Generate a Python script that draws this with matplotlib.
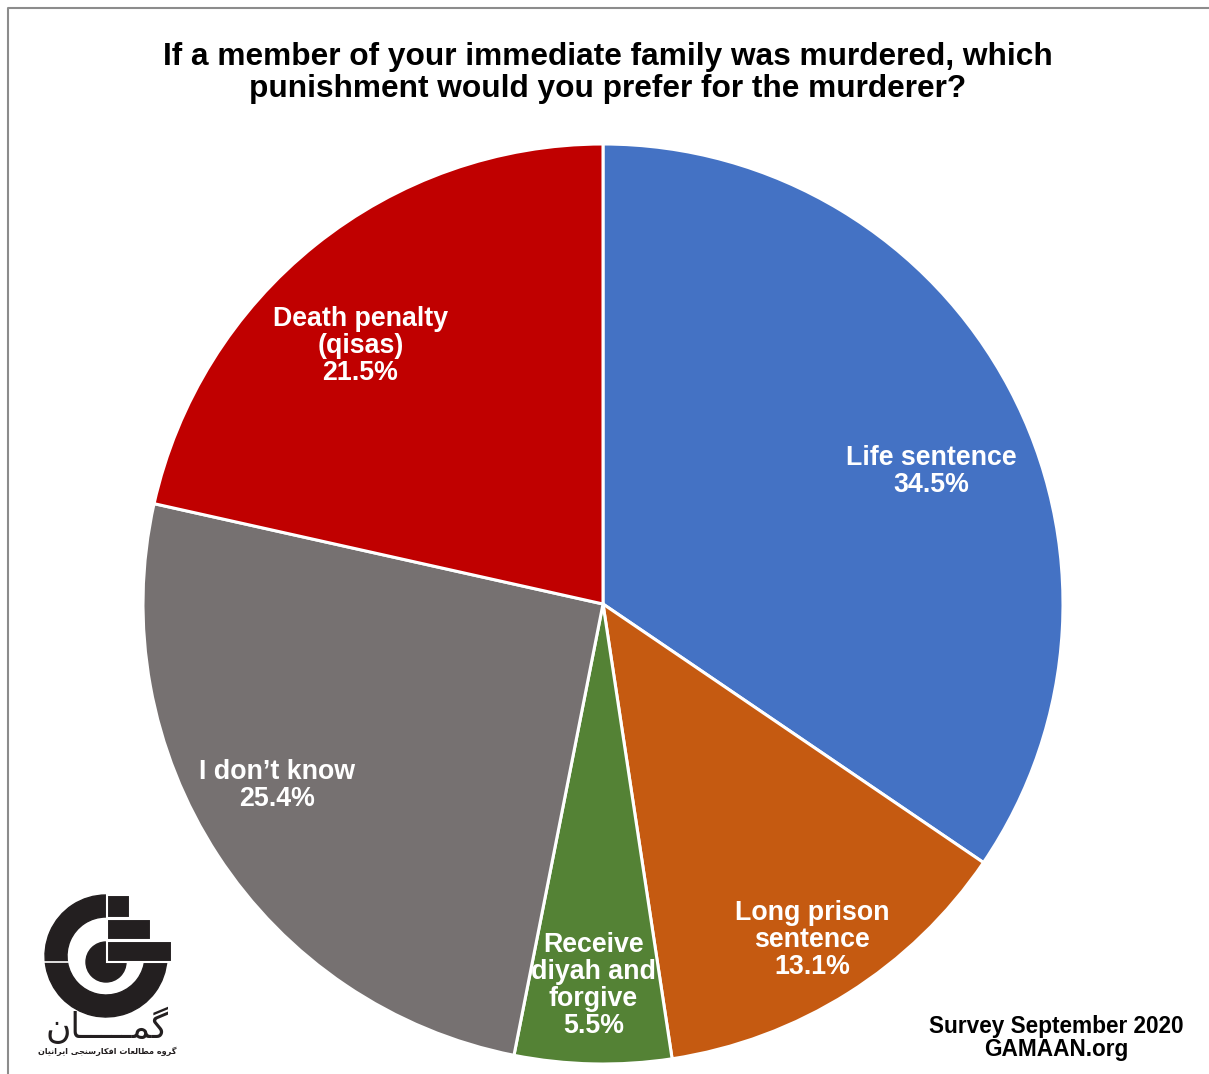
import numpy as np
import matplotlib
matplotlib.use('Agg')
import matplotlib.pyplot as plt
from matplotlib.patches import Wedge, Rectangle, Circle

plt.rcParams['font.family'] = ['Liberation Sans', 'DejaVu Sans']

# Survey answers, clockwise from 12 o'clock
categories = ['Life sentence', 'Long prison\nsentence', 'Receive\ndiyah and\nforgive',
              'I don\u2019t know', 'Death penalty\n(qisas)']
shares = [34.5, 13.1, 5.5, 25.4, 21.5]
colors = ['#4472C4', '#C55A11', '#548235', '#767171', '#C00000']

title = ('If a member of your immediate family was murdered, which\n'
         'punishment would you prefer for the murderer?')
source = 'Survey September 2020\nGAMAAN.org'
logo_word = '\u06af\u0645\u0640\u0640\u0640\u0640\u0640\u0627\u0646'
logo_sub = '\u06af\u0631\u0648\u0647 \u0645\u0637\u0627\u0644\u0639\u0627\u062a \u0627\u0641\u06a9\u0627\u0631\u0633\u0646\u062c\u06cc \u0627\u06cc\u0631\u0627\u0646\u06cc\u0627\u0646'

# label placement tweaks (angle nudge in degrees, radius as fraction of pie)
label_shift = [-6, -0.3, -0.2, -4, 4.5]
label_r = [0.77, 0.86, 0.83, 0.81, 0.77]

# --- minimal Arabic/Persian shaping (presentation forms + visual order) ---
FORMS = {
    '\u0627': ('\ufe8d', '\ufe8e', None, None),
    '\u0631': ('\ufead', '\ufeae', None, None),
    '\u0648': ('\ufeed', '\ufeee', None, None),
    '\u0647': ('\ufee9', '\ufeea', '\ufeeb', '\ufeec'),
    '\u0645': ('\ufee1', '\ufee2', '\ufee3', '\ufee4'),
    '\u0637': ('\ufec1', '\ufec2', '\ufec3', '\ufec4'),
    '\u0644': ('\ufedd', '\ufede', '\ufedf', '\ufee0'),
    '\u0639': ('\ufec9', '\ufeca', '\ufecb', '\ufecc'),
    '\u062a': ('\ufe95', '\ufe96', '\ufe97', '\ufe98'),
    '\u0641': ('\ufed1', '\ufed2', '\ufed3', '\ufed4'),
    '\u06a9': ('\ufb8e', '\ufb8f', '\ufb90', '\ufb91'),
    '\u0633': ('\ufeb1', '\ufeb2', '\ufeb3', '\ufeb4'),
    '\u0646': ('\ufee5', '\ufee6', '\ufee7', '\ufee8'),
    '\u062c': ('\ufe9d', '\ufe9e', '\ufe9f', '\ufea0'),
    '\u06cc': ('\ufbfc', '\ufbfd', '\ufbfe', '\ufbff'),
    '\u06af': ('\ufb92', '\ufb93', '\ufb94', '\ufb95'),
}
TATWEEL = '\u0640'


def dual(c):
    return c == TATWEEL or (c in FORMS and FORMS[c][2] is not None)


def joinable(c):
    return c == TATWEEL or c in FORMS


def shape(s):
    out = []
    for i, c in enumerate(s):
        if c not in FORMS:
            out.append(c)
            continue
        prev = s[i - 1] if i > 0 else ' '
        nxt = s[i + 1] if i + 1 < len(s) else ' '
        jp = dual(prev)
        jn = dual(c) and joinable(nxt)
        iso, fin, ini, med = FORMS[c]
        if jp and jn:
            out.append(med)
        elif jp:
            out.append(fin)
        elif jn:
            out.append(ini)
        else:
            out.append(iso)
    return ''.join(reversed(out))


W, H = 1209, 1074
fig = plt.figure(figsize=(W / 100, H / 100), dpi=100)

# pie
cx, cy, R = 603, 604, 460
ax = fig.add_axes([(cx - R) / W, (H - cy - R) / H, 2 * R / W, 2 * R / H])
wedges, _ = ax.pie(shares, colors=colors, startangle=90, counterclock=False,
                   wedgeprops=dict(edgecolor='white', linewidth=2.2))
ax.set_xlim(-1, 1)
ax.set_ylim(-1, 1)

for w, name, val, dth, r in zip(wedges, categories, shares, label_shift, label_r):
    mid = np.deg2rad((w.theta1 + w.theta2) / 2 + dth)
    ax.text(r * np.cos(mid), r * np.sin(mid), f'{name}\n{val}%',
            ha='center', va='center', color='white', fontsize=19.3,
            fontweight='bold', linespacing=1.04)

# overlay in pixel units (y up) for title, frame, logo and source
ov = fig.add_axes([0, 0, 1, 1])
ov.set_xlim(0, W)
ov.set_ylim(0, H)
ov.axis('off')
ov.patch.set_visible(False)


def py(y):
    return H - y


ov.plot([8, 8, W], [0, py(8), py(8)], color='#8c8c8c', lw=1.5)

ov.text(608, py(73), title, ha='center', va='center', fontsize=22.8,
        fontweight='bold', linespacing=1.1)
ov.text(1056, py(1038), source, ha='center', va='center', fontsize=16.3,
        fontweight='bold', linespacing=0.95)

# GAMAAN logo
ink = '#231f20'
ov.add_patch(Wedge((106, py(956)), 61, 90, 357, width=22, color=ink))
ov.plot([44, 68], [py(962), py(962)], color='white', lw=1.2)
ov.add_patch(Circle((106, py(962)), 20, color=ink))
for x0, y0, x1, y1 in [(107, 895, 130, 918), (107, 919, 151, 940), (107, 941, 172, 962)]:
    ov.add_patch(Rectangle((x0, py(y1)), x1 - x0, y1 - y0, facecolor=ink,
                           edgecolor='white', linewidth=1.5))
ov.text(107, py(1038), shape(logo_word), ha='center', va='baseline', fontsize=25,
        color=ink, family=['DejaVu Sans'])
ov.text(107, py(1051), shape(logo_sub), ha='center', va='center', fontsize=5.9,
        color=ink, fontweight='bold', family=['DejaVu Sans'])

fig.savefig('out.png', dpi=100, facecolor='white')
